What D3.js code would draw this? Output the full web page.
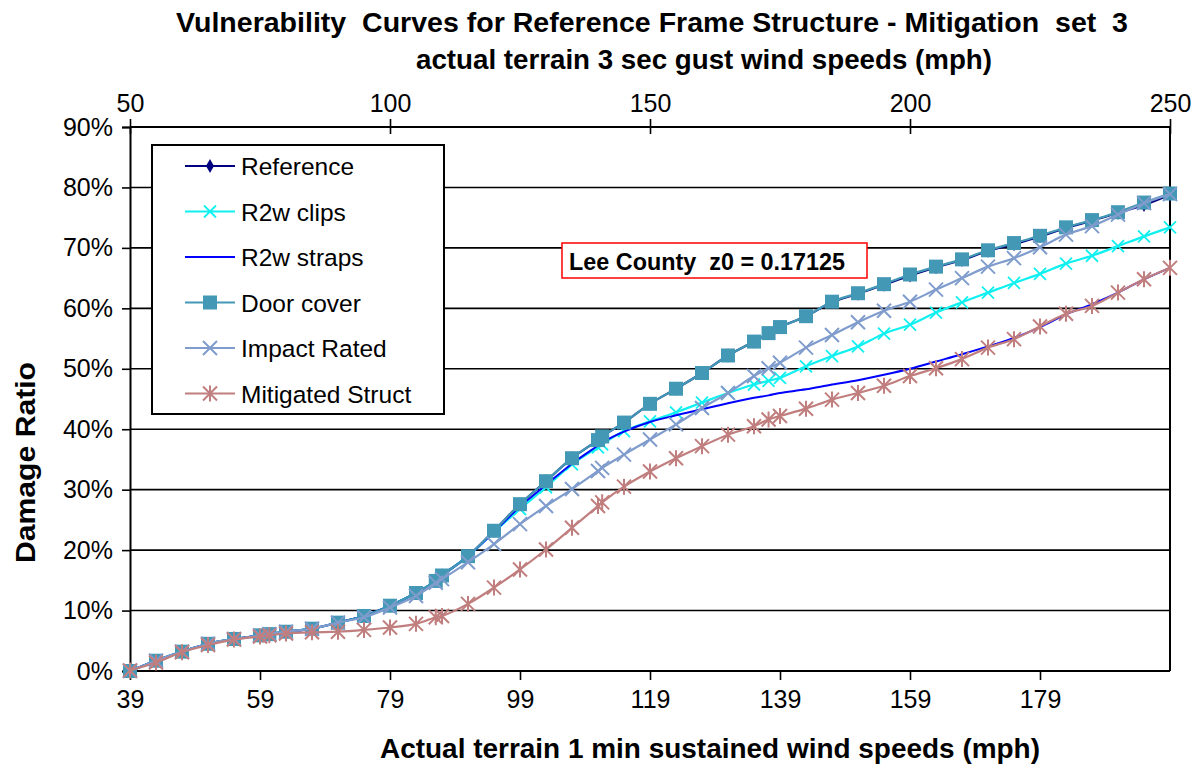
<!DOCTYPE html>
<html><head><meta charset="utf-8">
<script src="https://cdn.jsdelivr.net/npm/d3@7"></script>
<style>
html,body{margin:0;padding:0;background:#fff;}
svg{display:block;font-family:"Liberation Sans",Arial,sans-serif;}
</style></head>
<body><svg id="c" width="1198" height="772"></svg>
<script>
// ---- data (x = 3 sec gust speed, mph; values = damage ratio %) ----
const gust = [50,55,60,65,70,75,76.8,80,85,90,95,100,105,108.8,110,115,120,125,130,135,140,140.8,145,150,155,160,165,170,172.8,175,180,185,190,195,200,205,210,215,220,225,230,235,240,245,250];
const reference   = [0,1.7,3.2,4.5,5.3,5.9,6.1,6.5,7.0,8.0,9.1,10.8,12.9,14.9,15.8,19.0,23.2,27.6,31.4,35.2,38.2,38.8,41.1,44.2,46.7,49.3,52.2,54.5,55.9,56.9,58.7,61.0,62.4,63.9,65.4,66.8,68.0,69.5,70.6,71.9,73.3,74.5,75.8,77.1,78.8];
const r2wClips    = [0,1.7,3.2,4.5,5.3,5.9,6.1,6.5,7.0,8.0,9.1,10.8,12.9,14.9,15.8,19.0,23.0,26.8,30.4,34.2,37.0,37.5,39.7,41.3,42.8,44.4,46.0,47.4,48.0,48.5,50.4,52.1,53.7,55.8,57.3,59.3,61.0,62.6,64.2,65.7,67.4,68.7,70.3,71.9,73.4];
const r2wStraps   = [0,1.7,3.2,4.5,5.3,5.9,6.1,6.5,7.0,8.0,9.1,10.8,12.9,14.9,15.8,19.0,23.0,27.2,30.8,34.3,37.3,37.8,39.6,41.2,42.3,43.3,44.3,45.2,45.6,46.0,46.6,47.4,48.1,49.0,50.0,51.2,52.4,53.7,55.1,56.9,59.0,60.7,62.6,64.8,66.7];
const doorCover   = [0,1.7,3.2,4.5,5.3,5.9,6.1,6.5,7.0,8.0,9.1,10.8,12.9,14.9,15.8,19.0,23.2,27.6,31.4,35.2,38.2,38.8,41.1,44.2,46.7,49.3,52.2,54.5,55.9,56.9,58.7,61.1,62.5,64.0,65.6,66.9,68.1,69.6,70.8,72.0,73.4,74.6,75.9,77.5,79.0];
const impactRated = [0,1.7,3.2,4.5,5.3,5.9,6.1,6.5,7.0,8.0,8.9,10.5,12.4,14.6,15.2,18.0,21.0,24.3,27.3,30.1,33.1,33.6,35.8,38.3,40.8,43.5,46.0,48.8,50.1,51.0,53.5,55.6,57.7,59.6,61.1,63.1,65.0,66.9,68.3,70.1,72.2,73.6,75.5,77.4,78.9];
const mitigated   = [0.1,1.4,3.1,4.3,5.2,5.7,5.9,6.2,6.4,6.5,6.8,7.2,7.8,8.9,9.1,11.1,13.8,16.8,20.1,23.7,27.3,27.9,30.5,33.0,35.2,37.2,39.1,40.5,41.6,42.2,43.4,44.9,46.0,47.2,48.8,50.1,51.6,53.5,54.9,57.0,59.1,60.4,62.6,64.8,66.7];
const seriesNames = ["Reference","R2w clips","R2w straps","Door cover","Impact Rated","Mitigated Struct"];
const topTicks = [50,100,150,200,250];
const bottomTicks = [39,59,79,99,119,139,159,179];
const yTicks = [0,10,20,30,40,50,60,70,80,90];
const titleLine1 = "Vulnerability  Curves for Reference Frame Structure - Mitigation  set  3";
const titleLine2 = "actual terrain 3 sec gust wind speeds (mph)";
const xTitle = "Actual terrain 1 min sustained wind speeds (mph)";
const yTitle = "Damage Ratio";
const note = "Lee County  z0 = 0.17125";

// ---- layout ----
const L = 130, R = 1170, T = 127, B = 671;
const svg = d3.select("#c");
const xG = d3.scaleLinear().domain([50,250]).range([L,R]);
const xS = d3.scaleLinear().domain([39,199]).range([L,R]);
const y = d3.scaleLinear().domain([0,90]).range([B,T]);

// gridlines
svg.append("g").selectAll("line").data(yTicks.filter(d=>d>0)).join("line")
  .attr("x1",L).attr("x2",R).attr("y1",d=>y(d)).attr("y2",d=>y(d))
  .attr("stroke","#000").attr("stroke-width",1.6);

// axes
const fmtPct = d=>d+"%";
const ga = svg.append("g").attr("transform",`translate(${L},0)`)
  .call(d3.axisLeft(y).tickValues(yTicks).tickFormat(fmtPct).tickSize(8).tickPadding(9));
const gb = svg.append("g").attr("transform",`translate(0,${B})`)
  .call(d3.axisBottom(xS).tickValues(bottomTicks).tickSize(9).tickPadding(10));
const gt = svg.append("g").attr("transform",`translate(0,${T})`)
  .call(d3.axisTop(xG).tickValues(topTicks).tickSize(8).tickPadding(7));
gt.selectAll(".tick line").attr("y2",-8).attr("y1",7);
[ga,gb,gt].forEach(g=>{
  g.selectAll(".domain").attr("stroke","#000").attr("stroke-width",2);
  g.selectAll(".tick line").attr("stroke","#000").attr("stroke-width",1.6);
  g.selectAll("text").attr("font-family","'Liberation Sans',Arial,sans-serif").attr("font-size",25).attr("fill","#000");
});
gb.select(".domain").attr("d",`M${L},0H${R}`);
gt.select(".domain").attr("d",`M${L},0H${R}`);
// right border
svg.append("line").attr("x1",R).attr("x2",R).attr("y1",T).attr("y2",B).attr("stroke","#000").attr("stroke-width",2);

// ---- series ----
const colors = ["#000080","#10f0f0","#0000ff","#4398b6","#7f9ccc","#c07e7e"];
const values = [reference,r2wClips,r2wStraps,doorCover,impactRated,mitigated];
const line = d3.line().x(d=>xG(d[0])).y(d=>y(d[1])).curve(d3.curveCatmullRom.alpha(0.5));

function marker(g, type, cx, cy, color){
  if(type===0){
    g.append("path").attr("d",d3.symbol(d3.symbolDiamond,55)()).attr("transform",`translate(${cx},${cy})`).attr("fill",color);
  } else if(type===1 || type===4){
    const h = type===1?6:7;
    g.append("path").attr("d",`M${cx-h},${cy-h}L${cx+h},${cy+h}M${cx-h},${cy+h}L${cx+h},${cy-h}`)
      .attr("stroke",color).attr("stroke-width",type===1?1.8:2).attr("fill","none");
  } else if(type===3){
    g.append("rect").attr("x",cx-7).attr("y",cy-7).attr("width",14).attr("height",14).attr("fill",color);
  } else if(type===5){
    const h=7;
    g.append("path").attr("d",`M${cx-h},${cy-h}L${cx+h},${cy+h}M${cx-h},${cy+h}L${cx+h},${cy-h}M${cx},${cy-h-1}L${cx},${cy+h+1}`)
      .attr("stroke",color).attr("stroke-width",2).attr("fill","none");
  }
}

values.forEach((vals,i)=>{
  const pts = gust.map((g,k)=>[g,vals[k]]);
  const g = svg.append("g");
  g.append("path").datum(pts).attr("d",line).attr("fill","none")
    .attr("stroke",colors[i]).attr("stroke-width",i===2?2:2.2);
  if(i!==2) pts.forEach(p=>marker(g,i,xG(p[0]),y(p[1]),colors[i]));
});

// ---- legend ----
const lg = svg.append("g");
lg.append("rect").attr("x",152).attr("y",145).attr("width",292).attr("height",269)
  .attr("fill","#fff").attr("stroke","#000").attr("stroke-width",2);
seriesNames.forEach((n,i)=>{
  const cy = 166 + i*45.5;
  lg.append("line").attr("x1",185).attr("x2",235).attr("y1",cy).attr("y2",cy)
    .attr("stroke",colors[i]).attr("stroke-width",2);
  if(i!==2) marker(lg,i,210,cy,colors[i]);
  lg.append("text").attr("x",241).attr("y",cy+9).attr("font-size",24.5).attr("fill","#000").text(n);
});

// ---- annotation ----
svg.append("rect").attr("x",562).attr("y",243).attr("width",305).attr("height",35)
  .attr("fill","#fff").attr("stroke","#ff0000").attr("stroke-width",1.5);
svg.append("text").attr("x",569).attr("y",270).attr("font-size",23).attr("font-weight","bold")
  .attr("xml:space","preserve").style("white-space","pre").attr("textLength",276).attr("lengthAdjust","spacingAndGlyphs").text(note);

// ---- titles ----
svg.append("text").attr("x",176).attr("y",32).attr("font-size",27).attr("font-weight","bold")
  .style("white-space","pre").attr("textLength",952).attr("lengthAdjust","spacingAndGlyphs").text(titleLine1);
svg.append("text").attr("x",416).attr("y",69).attr("font-size",27).attr("font-weight","bold")
  .style("white-space","pre").attr("textLength",576).attr("lengthAdjust","spacingAndGlyphs").text(titleLine2);
svg.append("text").attr("x",380).attr("y",758).attr("font-size",27).attr("font-weight","bold")
  .attr("textLength",660).attr("lengthAdjust","spacingAndGlyphs").text(xTitle);
svg.append("text").attr("transform","translate(35,563) rotate(-90)").attr("font-size",27).attr("font-weight","bold")
  .attr("textLength",201).attr("lengthAdjust","spacingAndGlyphs").text(yTitle);
</script></body></html>
